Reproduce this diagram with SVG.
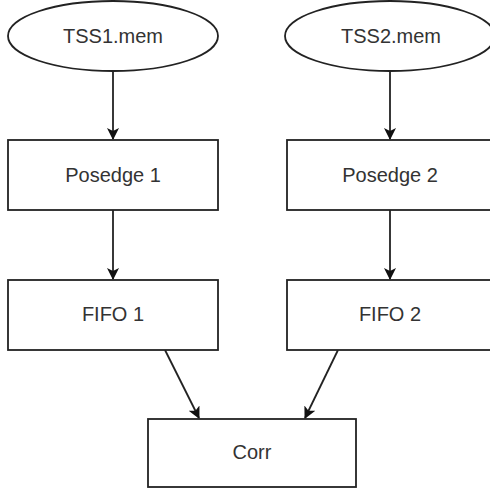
<svg xmlns="http://www.w3.org/2000/svg" width="490" height="490" viewBox="0 0 490 490">
<defs>
<style>
.shape{fill:#fff;stroke:#222;stroke-width:1.8}
.lbl{font-family:"Liberation Sans",Arial,sans-serif;font-size:20px;fill:#333;text-anchor:middle}
.edge{stroke:#222;stroke-width:1.8;fill:none}
</style>
<marker id="arr" markerWidth="12" markerHeight="12" refX="11" refY="6" orient="auto" markerUnits="userSpaceOnUse">
<path d="M0,0 L12,6 L0,12 L3,6 Z" fill="#111"/>
</marker>
</defs>
<rect width="490" height="490" fill="#fff"/>
<g id="connectors">
<line class="edge" x1="113" y1="70" x2="113" y2="139" marker-end="url(#arr)"/>
<line class="edge" x1="390" y1="70" x2="390" y2="139" marker-end="url(#arr)"/>
<line class="edge" x1="113" y1="210" x2="113" y2="279" marker-end="url(#arr)"/>
<line class="edge" x1="390" y1="210" x2="390" y2="279" marker-end="url(#arr)"/>
<line class="edge" x1="165" y1="350" x2="199" y2="418" marker-end="url(#arr)"/>
<line class="edge" x1="338" y1="350" x2="305" y2="418" marker-end="url(#arr)"/>
</g>
<g id="tss1">
<ellipse class="shape" cx="113" cy="36" rx="105" ry="35"/>
<text class="lbl" x="113" y="43">TSS1.mem</text>
</g>
<g id="tss2">
<ellipse class="shape" cx="390" cy="36" rx="105" ry="35"/>
<text class="lbl" x="391" y="43">TSS2.mem</text>
</g>
<g id="posedge1">
<rect class="shape" x="8" y="140" width="210" height="70"/>
<text class="lbl" x="113" y="182">Posedge 1</text>
</g>
<g id="posedge2">
<rect class="shape" x="287" y="140" width="210" height="70"/>
<text class="lbl" x="390" y="182">Posedge 2</text>
</g>
<g id="fifo1">
<rect class="shape" x="8" y="280" width="210" height="70"/>
<text class="lbl" x="113" y="321">FIFO 1</text>
</g>
<g id="fifo2">
<rect class="shape" x="287" y="280" width="210" height="70"/>
<text class="lbl" x="390" y="321">FIFO 2</text>
</g>
<g id="corr">
<rect class="shape" x="148" y="419" width="208" height="68"/>
<text class="lbl" x="252" y="459">Corr</text>
</g>
</svg>
